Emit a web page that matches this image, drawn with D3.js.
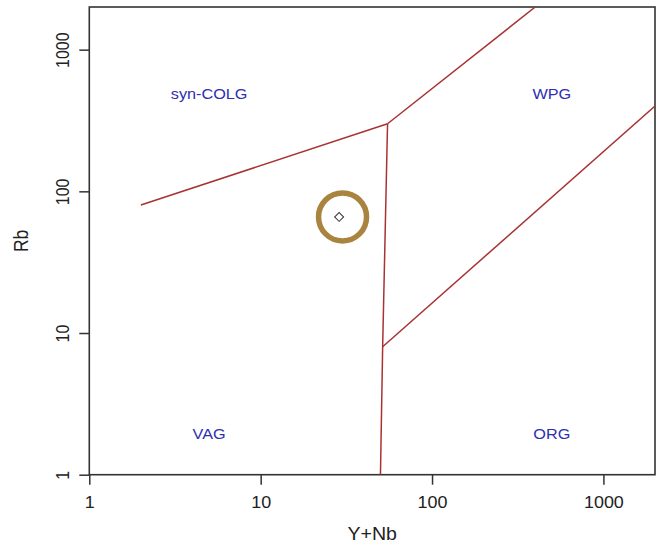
<!DOCTYPE html>
<html>
<head>
<meta charset="utf-8">
<script src="https://cdn.jsdelivr.net/npm/d3@7"></script>
<style>
  html, body { margin: 0; padding: 0; background: #fff; }
  svg { display: block; font-family: "Liberation Sans", Arial, sans-serif; }
</style>
</head>
<body>
<svg id="chart" width="656" height="549"></svg>
<script>
// Rb vs (Y+Nb) tectonic discrimination diagram (log-log)
const xTicks = [1, 10, 100, 1000];
const yTicks = [1, 10, 100, 1000];
const xDomain = [1, 2000];
const yDomain = [1, 2000];

// field boundaries, as [Y+Nb, Rb] vertices
const synColgVag = [[2, 80], [55, 300]];
const wpgUpper   = [[55, 300], [400, 2000]];
const vagOrg     = [[55, 300], [51.5, 8], [50, 1]];
const orgWpg     = [[51.5, 8], [2000, 400]];

// field names and their anchor positions
const fieldNames = ["syn-COLG", "WPG", "VAG", "ORG"];
const fieldX = [5, 500, 5, 500];
const fieldY = [500, 500, 2, 2];

// sample
const sampleX = [28.7];
const sampleY = [66];

const svg = d3.select("#chart");
const m = { left: 89.3, right: 655, top: 7, bottom: 474.7 };
const sx = 1.12; // horizontal text stretch

const x = d3.scaleLog().domain(xDomain).range([m.left, m.right]);
const y = d3.scaleLog().domain(yDomain).range([m.bottom, m.top]);

const axisColor = "#333";
const lineColor = "#a83232";
const labelColor = "#2e2eb2";

// axes
const gx = svg.append("g").attr("transform", `translate(0,${m.bottom})`)
  .call(d3.axisBottom(x).tickValues(xTicks).tickFormat(d3.format("d")).tickSize(10).tickSizeOuter(0));
gx.select(".domain").remove();
gx.selectAll(".tick line").attr("stroke", axisColor).attr("stroke-width", 1.5);
gx.selectAll(".tick text")
  .attr("y", 33.5).attr("dy", null)
  .attr("transform", `scale(${sx},1)`)
  .attr("fill", "#222").style("font-size", "16px");

const gy = svg.append("g").attr("transform", `translate(${m.left},0)`)
  .call(d3.axisLeft(y).tickValues(yTicks).tickFormat(d3.format("d")).tickSize(10).tickSizeOuter(0));
gy.select(".domain").remove();
gy.selectAll(".tick line").attr("stroke", axisColor).attr("stroke-width", 1.5);
gy.selectAll(".tick text")
  .attr("x", 0).attr("y", -20.2 / sx).attr("dy", null)
  .attr("text-anchor", "middle")
  .attr("transform", `scale(${sx},1) rotate(-90)`)
  .attr("fill", "#222").style("font-size", "16px");

// plot box
svg.append("rect")
  .attr("x", m.left).attr("y", m.top)
  .attr("width", m.right - m.left).attr("height", m.bottom - m.top)
  .attr("fill", "none").attr("stroke", axisColor).attr("stroke-width", 1.6);

// axis titles
svg.append("text")
  .attr("transform", `translate(${(m.left + m.right) / 2},540) scale(${sx},1)`)
  .attr("text-anchor", "middle").style("font-size", "17.5px").attr("fill", "#222")
  .text("Y+Nb");
svg.append("text")
  .attr("transform", `translate(28,${(m.top + m.bottom) / 2}) scale(${sx},1) rotate(-90)`)
  .attr("text-anchor", "middle").style("font-size", "17.5px").attr("fill", "#222")
  .text("Rb");

// boundaries
const line = d3.line().x(d => x(d[0])).y(d => y(d[1]));
const clip = svg.append("clipPath").attr("id", "plotClip")
  .append("rect").attr("x", m.left).attr("y", m.top)
  .attr("width", m.right - m.left).attr("height", m.bottom - m.top);
svg.append("g").attr("clip-path", "url(#plotClip)")
  .selectAll("path").data([synColgVag, wpgUpper, vagOrg, orgWpg]).join("path")
  .attr("d", line)
  .attr("fill", "none").attr("stroke", lineColor).attr("stroke-width", 1.5);

// field labels
svg.append("g").selectAll("text").data(fieldNames).join("text")
  .attr("transform", (d, i) => `translate(${x(fieldX[i])},${y(fieldY[i]) + 2}) scale(${sx},1)`)
  .attr("dy", "0.35em").attr("text-anchor", "middle")
  .style("font-size", "14.5px").attr("fill", labelColor)
  .text(d => d);

// sample point (open diamond) with highlight ring
const pts = sampleX.map((v, i) => [v, sampleY[i]]);
svg.append("g").selectAll("circle").data(pts).join("circle")
  .attr("cx", d => x(d[0]) + 3.4).attr("cy", d => y(d[1]))
  .attr("r", 24).attr("fill", "none")
  .attr("stroke", "#a9843f").attr("stroke-width", 5.5);
svg.append("g").selectAll("path").data(pts).join("path")
  .attr("transform", d => `translate(${x(d[0])},${y(d[1])}) rotate(45)`)
  .attr("d", d3.symbol(d3.symbolSquare, 40))
  .attr("fill", "none").attr("stroke", "#333").attr("stroke-width", 1);
</script>
</body>
</html>
